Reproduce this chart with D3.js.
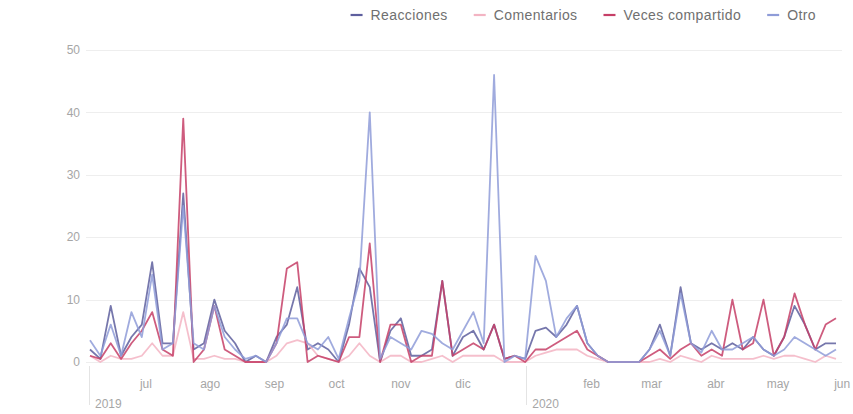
<!DOCTYPE html>
<html>
<head>
<meta charset="utf-8">
<script src="https://cdn.jsdelivr.net/npm/d3@7"></script>
<style>
  html, body { margin: 0; padding: 0; background: #fff; }
  svg { display: block; font-family: "Liberation Sans", Arial, sans-serif; }
</style>
</head>
<body>
<svg id="chart" width="853" height="414"></svg>
<script>
// ---------- data ----------
const startDate = "2019-06-04";
const stepDays = 5;
const seriesNames = ["Reacciones", "Comentarios", "Veces compartido", "Otro"];
const reacciones = [2,0.5,9,1,4,6,16,3,3,27,2,3,10,5,3,0,1,0,4,6,12,2,3,2,0,6,15,12,0,5,7,1,1,2,13,1,4,5,2,6,0.5,1,0.5,5,5.5,4,6,9,3,1,0,0,0,0,2,6,1,12,3,2,3,2,3,2,4,2,1,4,9,6,2,3,3];
const comentarios = [1,0,1,0.5,0.5,1,3,1,1,8,0.5,0.5,1,0.5,0.5,0,0,0,1,3,3.5,3,1,0.5,0,1,3,1,0,1,1,0,0,0.5,1,0,1,1,1,1,0,0,0,1,1.5,2,2,2,1,0.5,0,0,0,0,0,0.5,0,1,0.5,0,1,0.5,0.5,0.5,0.5,1,0.5,1,1,0.5,0,1,0.5];
const compartido = [1,0.5,3,0.5,3,5,8,2,1,39,0,2,9,2,1,0,0,0,3,15,16,0,1,0.5,0,4,4,19,0,6,6,0,1,1,13,1,2,3,2,6,0.5,1,0,2,2,3,4,5,2,1,0,0,0,0,1,2,0.5,2,3,1,2,1,10,2,3,10,1,4,11,6,2,6,7];
const otro = [3.5,1,6,1,8,4,14,2,3,25,3,2,9,4,2,0.5,1,0,3,7,7,3,2,4,0.5,7,13,40,0.5,4,3,2,5,4.5,3,2,5,8,3,46,0,1,0.5,17,13,4,7,9,3,1,0,0,0,0,2,5,1,11,3,1.5,5,2,2,3,4,2,1,2,4,3,2,1,2];
const yTicks = [0,10,20,30,40,50];
const monthLabels = ["ene","feb","mar","abr","may","jun","jul","ago","sep","oct","nov","dic"];
const colors = ["#5e5f9e", "#f3b4c3", "#c63f67", "#8f9cd8"];

// ---------- build ----------
const parse = d3.utcParse("%Y-%m-%d");
const t0 = parse(startDate);
const dates = reacciones.map((_, i) => d3.utcDay.offset(t0, i * stepDays));
const allSeries = [reacciones, comentarios, compartido, otro];

const svg = d3.select("#chart");
const mLeft = 90, mRight = 836, mTop = 50, mBottom = 362;

const x = d3.scaleUtc().domain(d3.extent(dates)).range([mLeft, mRight]);
const y = d3.scaleLinear().domain([0, 50]).range([mBottom, mTop]);

// grid
const grid = svg.append("g");
grid.selectAll("line").data(yTicks).join("line")
  .attr("x1", 86).attr("x2", 842)
  .attr("y1", d => Math.round(y(d)) + 0.5).attr("y2", d => Math.round(y(d)) + 0.5)
  .attr("stroke", "#eeeeee").attr("stroke-width", 1);

// y axis labels
svg.append("g").selectAll("text").data(yTicks).join("text")
  .attr("x", 80).attr("y", d => y(d)).attr("dy", "0.35em")
  .attr("text-anchor", "end")
  .attr("font-size", 12).attr("fill", "#a6a6a6")
  .text(d => d);

// x axis: months and years
const months = d3.utcMonth.range(d3.utcMonth.ceil(x.domain()[0]), d3.utcDay.offset(x.domain()[1], 5));
const xa = svg.append("g");
xa.selectAll("text.m").data(months.filter(d => d.getUTCMonth() !== 0)).join("text")
  .attr("class", "m")
  .attr("x", d => x(d)).attr("y", 388)
  .attr("text-anchor", "middle")
  .attr("font-size", 12).attr("fill", "#a6a6a6")
  .text(d => monthLabels[d.getUTCMonth()]);

const yearMarks = [x.domain()[0]].concat(months.filter(d => d.getUTCMonth() === 0));
xa.selectAll("line.y").data(yearMarks).join("line")
  .attr("class", "y")
  .attr("x1", d => Math.round(x(d)) - 0.5).attr("x2", d => Math.round(x(d)) - 0.5)
  .attr("y1", 366).attr("y2", 405)
  .attr("stroke", "#e4e4e4").attr("stroke-width", 1);
xa.selectAll("text.y").data(yearMarks).join("text")
  .attr("class", "y")
  .attr("x", d => x(d) + 5).attr("y", 408)
  .attr("font-size", 12).attr("fill", "#a6a6a6")
  .text(d => d.getUTCFullYear());

// lines
const line = d3.line()
  .x((d, i) => x(dates[i]))
  .y(d => y(d));

svg.append("g").selectAll("path").data(allSeries).join("path")
  .attr("d", d => line(d))
  .attr("fill", "none")
  .attr("stroke", (d, i) => colors[i])
  .attr("stroke-width", 1.8)
  .attr("stroke-linejoin", "round")
  .attr("stroke-opacity", 0.85);

// legend (right aligned)
const legend = svg.append("g");
const items = legend.selectAll("g").data(seriesNames).join("g");
items.append("line")
  .attr("x1", 0).attr("x2", 12).attr("y1", 15).attr("y2", 15)
  .attr("stroke", (d, i) => colors[i]).attr("stroke-width", 2.2);
items.append("text")
  .attr("x", 20).attr("y", 15).attr("dy", "0.35em")
  .attr("font-size", 14).attr("letter-spacing", "0.4px").attr("fill", "#707070")
  .text(d => d);
const widths = [];
items.each(function () { widths.push(this.getBBox().width); });
const gap = 26;
const total = d3.sum(widths) + gap * (widths.length - 1);
let cx = 816 - total;
items.attr("transform", (d, i) => {
  const tx = cx; cx += widths[i] + gap; return `translate(${tx},0)`;
});
</script>
</body>
</html>
